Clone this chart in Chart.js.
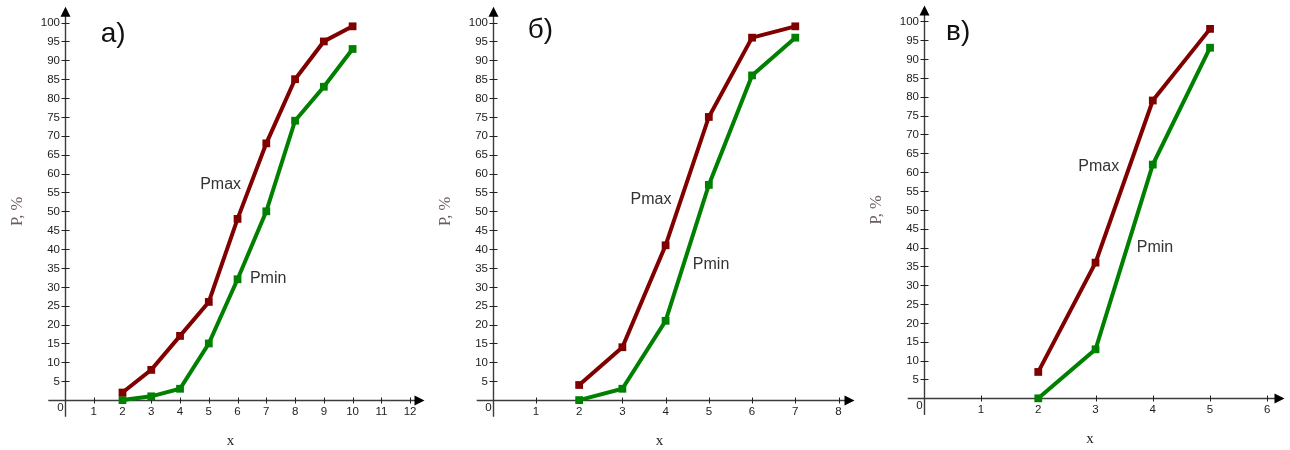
<!DOCTYPE html>
<html>
<head>
<meta charset="utf-8">
<script src="https://cdn.jsdelivr.net/npm/chart.js@4.4.1/dist/chart.umd.min.js"></script>
<style>
  html, body { margin:0; padding:0; background:#fff; }
  #wrap { position:relative; width:1290px; height:450px; background:#fff; overflow:hidden; }
  .panel { position:absolute; top:0; width:430px; height:450px; }
</style>
</head>
<body>
<div id="wrap">
  <div class="panel" style="left:0px"><canvas id="c0" width="430" height="450"></canvas></div>
  <div class="panel" style="left:430px"><canvas id="c1" width="430" height="450"></canvas></div>
  <div class="panel" style="left:860px"><canvas id="c2" width="430" height="450"></canvas></div>
</div>
<script>
// ---------------- data ----------------
const panelLabels = ['а)', 'б)', 'в)'];
const seriesNames = ['Pmax', 'Pmin'];
const yAxisTitle = 'P, %';
const xAxisTitle = 'x';

const xA = [2, 3, 4, 5, 6, 7, 8, 9, 10];
const pmaxA = [2, 8, 17, 26, 48, 68, 85, 95, 99];
const pminA = [0, 1, 3, 15, 32, 50, 74, 83, 93];

const xB = [2, 3, 4, 5, 6, 7];
const pmaxB = [4, 14, 41, 75, 96, 99];
const pminB = [0, 3, 21, 57, 86, 96];

const xC = [2, 3, 4, 5];
const pmaxC = [7, 36, 79, 98];
const pminC = [0, 13, 62, 93];

const xTicksA = [0, 1, 2, 3, 4, 5, 6, 7, 8, 9, 10, 11, 12];
const xTicksB = [0, 1, 2, 3, 4, 5, 6, 7, 8];
const xTicksC = [0, 1, 2, 3, 4, 5, 6];
const yTicks = [5, 10, 15, 20, 25, 30, 35, 40, 45, 50, 55, 60, 65, 70, 75, 80, 85, 90, 95, 100];

// ---------------- layout / style ----------------
const COL_MAX = '#800000';
const COL_MIN = '#008000';

const panels = [
  { id:'c0', label: panelLabels[0], xs: xA, pmax: pmaxA, pmin: pminA, xTicks: xTicksA,
    xMin:-0.58, xMax:12.5, yMin:-4.4, yMax:104.2,
    pad:{left:48.3, right:3.3, top:6.7, bottom:33.3},
    labelAt:{x:1.24, y:94.9}, maxAt:{x:4.70, y:57.2}, minAt:{x:6.43, y:32.1} },
  { id:'c1', label: panelLabels[1], xs: xB, pmax: pmaxB, pmin: pminB, xTicks: xTicksB,
    xMin:-0.37, xMax:8.37, yMin:-4.4, yMax:104.2,
    pad:{left:46.7, right:5, top:6.7, bottom:33.3},
    labelAt:{x:0.81, y:95.9}, maxAt:{x:3.19, y:53.0}, minAt:{x:4.63, y:35.8} },
  { id:'c2', label: panelLabels[2], xs: xC, pmax: pmaxC, pmin: pminC, xTicks: xTicksC,
    xMin:-0.28, xMax:6.3, yMin:-4.42, yMax:104.2,
    pad:{left:47.7, right:4, top:5, bottom:35},
    labelAt:{x:0.39, y:95.1}, maxAt:{x:2.70, y:61.6}, minAt:{x:3.72, y:39.9} }
];

function seg(ctx, x1, y1, x2, y2) {
  ctx.beginPath(); ctx.moveTo(x1, y1); ctx.lineTo(x2, y2); ctx.stroke();
}

const axesPlugin = {
  id: 'crossAxes',
  beforeDatasetsDraw(chart, args, opts) {
    const p = opts.panel;
    const { ctx, chartArea: ca } = chart;
    const xs = chart.scales.x, ys = chart.scales.y;
    const x0 = Math.round(xs.getPixelForValue(0)) + 0.5;
    const y0 = Math.round(ys.getPixelForValue(0)) + 0.5;
    ctx.save();
    ctx.strokeStyle = '#3c3c3c';
    ctx.fillStyle = '#000';
    ctx.lineWidth = 1.4;
    // axis lines
    seg(ctx, ca.left, y0, ca.right - 8, y0);
    seg(ctx, x0, ca.bottom, x0, ca.top + 8);
    // arrow heads
    ctx.beginPath();
    ctx.moveTo(ca.right, y0); ctx.lineTo(ca.right - 10, y0 - 5); ctx.lineTo(ca.right - 10, y0 + 5); ctx.closePath(); ctx.fill();
    ctx.beginPath();
    ctx.moveTo(x0, ca.top); ctx.lineTo(x0 - 5, ca.top + 10); ctx.lineTo(x0 + 5, ca.top + 10); ctx.closePath(); ctx.fill();
    // tick marks
    ctx.strokeStyle = '#222';
    ctx.lineWidth = 1;
    yTicks.forEach(v => {
      const py = Math.round(ys.getPixelForValue(v)) + 0.5;
      seg(ctx, x0 - 4, py, x0 + 4, py);
    });
    p.xTicks.forEach(v => {
      if (v === 0) return;
      const px = Math.round(xs.getPixelForValue(v)) + 0.5;
      seg(ctx, px, y0 - 3, px, y0 + 3);
    });
    // tick labels
    ctx.font = '11.5px "Liberation Sans", Arial, sans-serif';
    ctx.fillStyle = '#222';
    ctx.textBaseline = 'middle';
    ctx.textAlign = 'right';
    yTicks.forEach(v => {
      ctx.fillText(String(v), x0 - 5.5, ys.getPixelForValue(v) + 0.5);
    });
    ctx.textAlign = 'center';
    p.xTicks.forEach(v => {
      if (v === 0) {
        ctx.fillText('0', x0 - 5, y0 + 7.5);
      } else {
        ctx.fillText(String(v), xs.getPixelForValue(v), y0 + 11.5);
      }
    });
    // axis titles
    ctx.fillStyle = '#6b5b63';
    ctx.font = '16.5px "Liberation Serif", "Times New Roman", serif';
    ctx.save();
    ctx.translate(x0 - 47.5, (ys.getPixelForValue(0) + ys.getPixelForValue(100)) / 2);
    ctx.rotate(-Math.PI / 2);
    ctx.textAlign = 'center';
    ctx.fillText(yAxisTitle, 0, 0);
    ctx.restore();
    ctx.fillStyle = '#222';
    ctx.font = '15px "Liberation Serif", "Times New Roman", serif';
    ctx.textAlign = 'center';
    ctx.fillText(xAxisTitle, (ca.left + ca.right) / 2 - 6, y0 + 41);
    ctx.restore();
  },
  afterDatasetsDraw(chart, args, opts) {
    const p = opts.panel;
    const { ctx } = chart;
    const xs = chart.scales.x, ys = chart.scales.y;
    ctx.save();
    ctx.fillStyle = '#111';
    ctx.textAlign = 'left';
    ctx.textBaseline = 'alphabetic';
    ctx.font = '28px "Liberation Sans", Arial, sans-serif';
    ctx.fillText(p.label, xs.getPixelForValue(p.labelAt.x), ys.getPixelForValue(p.labelAt.y));
    ctx.fillStyle = '#333';
    ctx.textBaseline = 'middle';
    ctx.font = '16px "Liberation Sans", Arial, sans-serif';
    ctx.fillText(seriesNames[0], xs.getPixelForValue(p.maxAt.x), ys.getPixelForValue(p.maxAt.y));
    ctx.fillText(seriesNames[1], xs.getPixelForValue(p.minAt.x), ys.getPixelForValue(p.minAt.y));
    ctx.restore();
  }
};

function makeDataset(name, xs, ys, color) {
  return {
    label: name,
    data: xs.map((v, i) => ({ x: v, y: ys[i] })),
    borderColor: color,
    backgroundColor: color,
    borderWidth: 4,
    pointStyle: 'rect',
    pointRadius: 5.5,
    pointBorderWidth: 0,
    pointBackgroundColor: color,
    tension: 0,
    clip: false
  };
}

panels.forEach(p => {
  new Chart(document.getElementById(p.id), {
    type: 'line',
    data: {
      datasets: [
        makeDataset(seriesNames[0], p.xs, p.pmax, COL_MAX),
        makeDataset(seriesNames[1], p.xs, p.pmin, COL_MIN)
      ]
    },
    options: {
      responsive: false,
      animation: false,
      events: [],
      layout: { padding: p.pad },
      scales: {
        x: { type: 'linear', min: p.xMin, max: p.xMax, display: false },
        y: { type: 'linear', min: p.yMin, max: p.yMax, display: false }
      },
      plugins: {
        legend: { display: false },
        tooltip: { enabled: false },
        crossAxes: { panel: p }
      }
    },
    plugins: [axesPlugin]
  });
});
</script>
</body>
</html>
